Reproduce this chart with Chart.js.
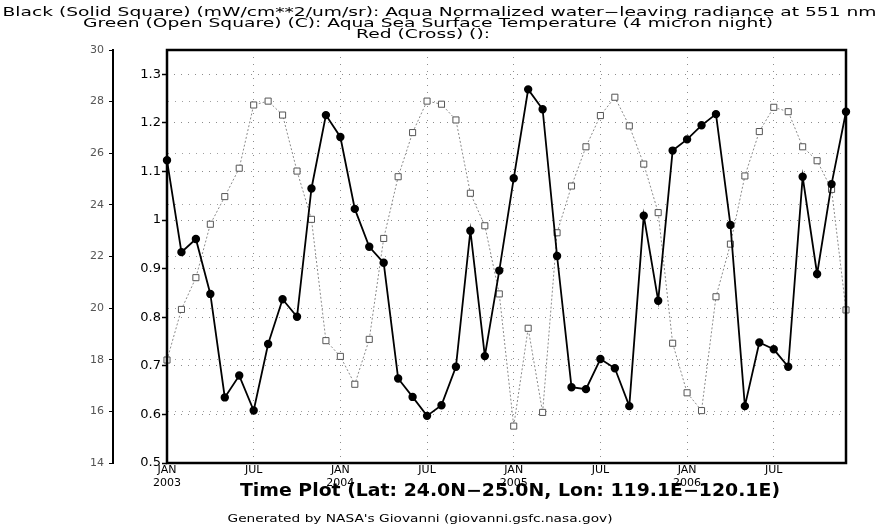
<!DOCTYPE html>
<html>
<head>
<meta charset="utf-8">
<script src="https://cdn.jsdelivr.net/npm/chart.js@4/dist/chart.umd.min.js"></script>
<style>
  body { margin: 0; background: #fff; }
  #wrap { width: 879px; height: 528px; }
</style>
</head>
<body>
<div id="wrap"><canvas id="plot" width="879" height="528"></canvas></div>
<script>
// monthly values, Jan 2003 .. Dec 2006
const years = ['2003', '2004', '2005', '2006'];
const monthNames = ['JAN', 'FEB', 'MAR', 'APR', 'MAY', 'JUN', 'JUL', 'AUG', 'SEP', 'OCT', 'NOV', 'DEC'];
const months = [];
years.forEach(y => monthNames.forEach(m => months.push(m + ' ' + y)));

// black: normalized water-leaving radiance at 551 nm (mW/cm**2/um/sr)
const radiance = [
  1.123, 0.934, 0.961, 0.848, 0.635, 0.680, 0.608, 0.745, 0.837, 0.801, 1.065, 1.216,
  1.171, 1.023, 0.945, 0.912, 0.674, 0.636, 0.597, 0.619, 0.698, 0.978, 0.720, 0.896,
  1.086, 1.269, 1.228, 0.926, 0.656, 0.652, 0.714, 0.695, 0.617, 1.009, 0.834, 1.143,
  1.166, 1.195, 1.218, 0.990, 0.617, 0.748, 0.734, 0.698, 1.089, 0.889, 1.074, 1.223
];
// green: sea surface temperature, 4 micron night (C)
const sst = [
  17.99, 19.95, 21.18, 23.25, 24.32, 25.42, 27.87, 28.02, 27.48, 25.31, 23.44, 18.74,
  18.13, 17.05, 18.79, 22.70, 25.09, 26.80, 28.02, 27.90, 27.29, 24.45, 23.19, 20.55,
  15.43, 19.22, 15.96, 22.92, 24.73, 26.25, 27.46, 28.17, 27.06, 25.58, 23.70, 18.64,
  16.72, 16.03, 20.44, 22.48, 25.12, 26.84, 27.78, 27.61, 26.25, 25.71, 24.60, 19.93
];

const headerLines = [
  'Black (Solid Square) (mW/cm**2/um/sr): Aqua Normalized water\u2212leaving radiance at 551 nm',
  'Green (Open Square) (C): Aqua Sea Surface Temperature (4 micron night)',
  'Red (Cross) ():'
];
const plotTitle = 'Time Plot (Lat: 24.0N\u221225.0N, Lon: 119.1E\u2212120.1E)';
const footer = "Generated by NASA's Giovanni (giovanni.gsfc.nasa.gov)";

Chart.defaults.font.family = '"DejaVu Sans", sans-serif';

function stretchText(ctx, text, cx, cy, sx) {
  ctx.save();
  ctx.translate(cx, cy);
  ctx.scale(sx, 1);
  ctx.fillText(text, 0, 0);
  ctx.restore();
}

const framePlugin = {
  id: 'frame',
  afterDraw(chart) {
    const ctx = chart.ctx;
    const a = chart.chartArea;
    ctx.save();
    ctx.strokeStyle = '#000';
    ctx.lineWidth = 2.5;
    ctx.strokeRect(a.left, a.top, a.right - a.left, a.bottom - a.top);

    ctx.fillStyle = '#000';
    ctx.textAlign = 'center';
    ctx.textBaseline = 'middle';

    ctx.font = '12px "DejaVu Sans"';
    let sx = 874 / ctx.measureText(headerLines[0]).width;
    const hx = [439.5, 428, 423];
    const hy = [12.5, 23.5, 34.5];
    headerLines.forEach((t, i) => stretchText(ctx, t, hx[i], hy[i], sx));

    ctx.font = 'bold 17px "DejaVu Sans"';
    sx = 540 / ctx.measureText(plotTitle).width;
    stretchText(ctx, plotTitle, 510, 492, sx);

    ctx.font = '11px "DejaVu Sans"';
    sx = 385 / ctx.measureText(footer).width;
    stretchText(ctx, footer, 420, 519, sx);
    ctx.restore();
  }
};

new Chart(document.getElementById('plot'), {
  type: 'line',
  data: {
    labels: months,
    datasets: [
      {
        label: 'Radiance 551 nm',
        data: radiance.map((v, i) => ({ x: i, y: v })),
        yAxisID: 'y',
        borderColor: '#000',
        borderWidth: 1.8,
        pointStyle: 'circle',
        pointRadius: 3.3,
        pointBackgroundColor: '#000',
        pointBorderColor: '#000',
        tension: 0,
        clip: 6
      },
      {
        label: 'SST',
        data: sst.map((v, i) => ({ x: i, y: v })),
        yAxisID: 'y2',
        borderColor: '#8a8a8a',
        borderWidth: 1,
        borderDash: [2, 2],
        pointStyle: 'rect',
        pointRadius: 4.3,
        pointBackgroundColor: '#fff',
        pointBorderColor: '#555',
        pointBorderWidth: 1,
        tension: 0,
        clip: 6
      }
    ]
  },
  options: {
    responsive: false,
    devicePixelRatio: 1,
    animation: false,
    layout: { padding: { left: 80, top: 50, right: 33, bottom: 35 } },
    plugins: {
      legend: { display: false },
      tooltip: { enabled: false }
    },
    scales: {
      x: {
        type: 'linear',
        min: 0,
        max: 47,
        ticks: {
          stepSize: 6,
          includeBounds: false,
          autoSkip: false,
          maxRotation: 0,
          padding: 1,
          color: '#000',
          font: { size: 11, lineHeight: 1.15 },
          callback: v => v % 12 === 0 ? ['JAN', years[v / 12]] : (v % 12 === 6 ? 'JUL' : '')
        },
        grid: { color: '#8c8c8c', drawTicks: false },
        border: { display: false, dash: [1, 6] },
        afterFit: s => { s.height = 30; }
      },
      y: {
        position: 'left',
        weight: 0,
        min: 0.5,
        max: 1.35,
        ticks: {
          stepSize: 0.1,
          includeBounds: false,
          padding: 1,
          color: '#000',
          font: { size: 13 },
          callback: v => String(Math.round(v * 10) / 10)
        },
        grid: { color: '#8c8c8c', tickLength: 5, tickColor: '#000', tickWidth: 1.5 },
        border: { display: false, dash: [1, 6] },
        afterFit: s => { s.width = 54; }
      },
      y2: {
        position: 'left',
        weight: 1,
        min: 14,
        max: 30,
        ticks: {
          stepSize: 2,
          padding: 5,
          color: '#555',
          font: { size: 11 }
        },
        grid: { color: '#a0a0a0', tickLength: 4, tickColor: '#000' },
        border: { display: true, color: '#000', width: 2, dash: [1, 6] },
        afterFit: s => { s.width = 33; }
      }
    }
  },
  plugins: [framePlugin]
});
</script>
</body>
</html>
